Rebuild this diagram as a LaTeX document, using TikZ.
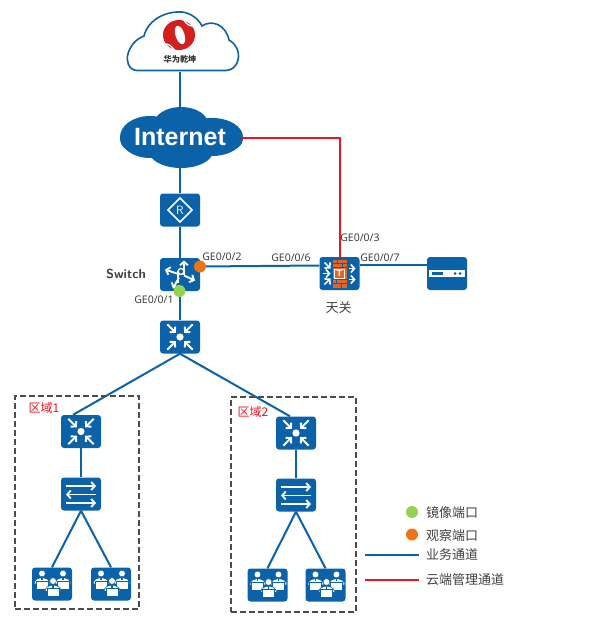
\documentclass[tikz,border=0pt]{standalone}
\usepackage{fontspec}
\setmainfont{Noto Sans}
\newfontfamily\cjk{Noto Sans CJK SC}
\newfontfamily\arialbold{Liberation Sans}[Scale=1.0]
\usetikzlibrary{arrows.meta,positioning,calc}
\definecolor{hwblue}{HTML}{0B62A9}
\definecolor{linered}{RGB}{240,20,30}
\definecolor{hworange}{HTML}{EE7311}
\definecolor{hwgreen}{HTML}{93D34F}
\definecolor{hwbrick}{HTML}{E0662A}
\definecolor{hwtext}{HTML}{404040}
\definecolor{logored}{HTML}{D2201F}

\begin{document}
\begin{tikzpicture}[
  x=1pt,y=-1pt,
  device/.style={fill=hwblue, rounded corners=3pt, minimum width=40pt, minimum height=33pt, inner sep=0pt, font=\sffamily},
  link/.style={draw=hwblue, line width=2pt},
  mgmtlink/.style={color=linered, line width=2pt},
  zone/.style={draw=black!70, dash pattern=on 6pt off 3pt, line width=1.1pt},
  port/.style={circle, inner sep=0pt, minimum size=12pt},
  portlabel/.style={font=\fontsize{10.5}{12}\selectfont, text=hwtext, inner sep=0pt},
  cjklabel/.style={font=\cjk\fontsize{13}{15}\selectfont, text=hwtext, inner sep=0pt},
  zonelabel/.style={font=\cjk\fontsize{12}{14}\selectfont, text=linered, inner sep=0pt},
  tip/.style={-{Straight Barb[length=3.5pt,width=8pt]}, draw=white, line width=1.9pt},
  person/.pic={
    \fill[white, draw=hwblue, line width=0.4pt] (0,-4.5) circle (3.3);
    \fill[white, draw=hwblue, line width=0.6pt] (-8,6) .. controls (-8,-2.5) and (8,-2.5) .. (8,6) -- cycle;
    \fill[hwblue] (-0.8,-1) rectangle (0.8,2);
    \fill[white, draw=hwblue, line width=0.6pt] (-6,3) rectangle (6,11);
  },
  core icon/.pic={
    \fill[white] (0,0) circle (3.6);
    \foreach \a in {45,135,225,315}{
      \draw[tip, rotate=\a] (18,0) -- (6,0);
    }
  },
  l2 icon/.pic={
    \draw[tip] (-15,-8) -- (15,-8);
    \draw[tip] (15,0.5) -- (-15,0.5);
    \draw[tip] (-15,9) -- (15,9);
  },
  router icon/.pic={
    \draw[draw=white, line width=1.6pt] (0,-12) -- (12,0) -- (0,12) -- (-12,0) -- cycle;
    \node[text=white, font=\sffamily\fontsize{12}{13}\selectfont, inner sep=0pt] at (0,0) {R};
  },
  switch icon/.pic={
    \draw[tip] (4,0) -- (4,-14);
    \draw[tip] (4,1) -- (15,6);
    \draw[tip] (-3,-1) -- (-15,-5);
    \draw[tip] (-1,3) -- (-7,14);
    \draw[draw=white, line width=1.4pt] (1,-3) circle (3);
    \draw[draw=white, line width=1.4pt] (-2,-4) -- (-2,8);
  },
  gateway icon/.pic={
    \fill[hwbrick] (-7,-14) rectangle (7,14);
    \foreach \y in {-10,-6,6,10}{\draw[hwblue, line width=0.8pt] (-7,\y) -- (7,\y);}
    \draw[hwblue, line width=0.8pt] (-2,-14) -- (-2,-10) (3,-10) -- (3,-6) (-3,6) -- (-3,10) (2,10) -- (2,14);
    \fill[hwbrick] (-6,-5) rectangle (6,5);
    \draw[white, line width=0.5pt] (-5,-4.5) rectangle (5,4.5);
    \node[text=white, font=\sffamily\bfseries\fontsize{9}{10}\selectfont, inner sep=0pt] at (0,0) {T};
    \draw[tip, line width=1.6pt] (-15,-11) -- (-9,-5);
    \draw[tip, line width=1.6pt] (-17,0) -- (-9,0);
    \draw[tip, line width=1.6pt] (-15,11) -- (-9,5);
    \draw[tip, line width=1.6pt] (9,-5) -- (16,-5);
    \draw[tip, line width=1.6pt] (9,6) -- (16,6);
  },
  server icon/.pic={
    \fill[white] (-18,-3.5) rectangle (18,3.5);
    \fill[hwblue] (-15,-1.5) rectangle (-4,1.5);
    \fill[hwblue] (8,0) circle (1.5);
    \fill[hwblue] (13,0) circle (1.5);
  },
  users icon/.pic={
    \pic at (-10,-6) {person};
    \pic at (11,-6) {person};
    \pic at (1,1.5) {person};
  }
]
\useasboundingbox (0,0) rectangle (599,624);

% clouds
\draw[hwblue, fill=white, line width=1.6pt] (137,70.5)
  .. controls (128,70) and (126,60) .. (128,54)
  .. controls (130,46) and (136,39) .. (144,36)
  .. controls (148,20) and (165,11) .. (182,12)
  .. controls (190,13) and (198,18) .. (202,26)
  .. controls (212,19) and (226,25) .. (229,40)
  .. controls (236,44) and (240,52) .. (238,60)
  .. controls (236,67) and (232,70) .. (226,70.5) -- cycle;
\foreach \cx/\cy/\rx/\ry in {150/137/30/21,212/137/31/19,181/124/27/17,181/151/32/17,226/139/17/12,136/139/16/13}{
  \fill[hwblue] (\cx,\cy) ellipse (\rx pt and \ry pt);
}

% logo
\fill[logored] (179,35) ellipse (16pt and 15pt);
\fill[white, rotate around={18:(180,35)}] (180,35) ellipse (4.5pt and 9.5pt);
\draw[white, line width=1.4pt] (196,26) .. controls (190,27) and (186,24) .. (184,20);
\draw[white, line width=1.4pt] (162,44) .. controls (168,43) and (172,46) .. (174,50);

\node[minimum width=112pt, minimum height=59pt, inner sep=0pt] (cloud) at (183,42) {};
\node[font=\cjk\bfseries\fontsize{8.2}{9}\selectfont, text=black!80, inner sep=0pt] (qiankun) at (180,59.5) {华为乾坤};
\node[minimum width=124pt, minimum height=61pt, inner sep=0pt, text=white, font=\arialbold\bfseries\fontsize{25}{28}\selectfont] (inet) at (180,137.5) {Internet};

% devices
\node[device] (router) at (180,210) {};
\node[device] (switch) at (180,274.5) {};
\node[device] (core) at (180,337) {};
\node[device] (gateway) at (339.5,273.5) {};
\node[device] (server) at (447,273.5) {};
\node[device] (coreA) at (81,431.5) {};
\node[device] (accA) at (81,494) {};
\node[device] (userAa) at (52,584) {};
\node[device] (userAb) at (111,584) {};
\node[device] (coreB) at (296,433) {};
\node[device] (accB) at (296,495) {};
\node[device] (userBa) at (267.5,585) {};
\node[device] (userBb) at (325.5,585) {};

% links
\draw[link] (cloud.south -| inet) -- (inet.north);
\draw[link] (inet.south) -- (router.north);
\draw[link] (router) -- (switch);
\draw[link] (switch) -- (core);
\draw[link] ([yshift=8pt]switch.east) -- ([yshift=8pt]gateway.west);
\draw[link] ([yshift=9pt]gateway.east) -- ([yshift=9pt]server.west);
\draw[link] (core.south) -- ([xshift=-8pt]coreA.north);
\draw[link] (core.south) -- ([xshift=-6pt]coreB.north);
\foreach \a/\b in {coreA/accA,coreB/accB}{\draw[link] (\a) -- (\b);}
\foreach \a/\b in {accA/userAa,accA/userAb,accB/userBa,accB/userBb}{\draw[link] (\a.south) -- (\b.north);}
\draw[mgmtlink] (inet.east) -| (gateway.north);

% icons
\pic at (router) {router icon};
\pic at (switch) {switch icon};
\foreach \n in {core,coreA,coreB}{\pic at (\n) {core icon};}
\foreach \n in {accA,accB}{\pic at (\n) {l2 icon};}
\pic at (gateway) {gateway icon};
\pic at (server) {server icon};
\foreach \n in {userAa,userAb,userBa,userBb}{\pic at (\n) {users icon};}

% zones
\node[zone, minimum width=124pt, minimum height=213pt, inner sep=0pt] (zoneA) at (77,502.5) {};
\node[zone, minimum width=125pt, minimum height=215pt, inner sep=0pt] (zoneB) at (293.5,504.5) {};
\node[zonelabel] (zoneAlabel) at (44,408) {区域1};
\node[zonelabel] (zoneBlabel) at (253,412) {区域2};

% ports
\node[port, fill=hwgreen] (portA) at (179.5,291) {};
\node[port, fill=hworange] (portB) at (200,266.5) {};
\node[portlabel] (geA) at (154,300) {GE0/0/1};
\node[portlabel] (geB) at (222,257) {GE0/0/2};
\node[portlabel] (geC) at (291,258) {GE0/0/6};
\node[portlabel] (geD) at (360,238) {GE0/0/3};
\node[portlabel] (geE) at (380,257.5) {GE0/0/7};
\node[font=\sffamily\bfseries\fontsize{13}{15}\selectfont, text=hwtext, inner sep=0pt] (swname) at (126,274) {Switch};
\node[cjklabel] (gwname) at (338.5,308) {天关};

% legend
\node[port, fill=hwgreen] (legA) at (412,512) {};
\node[port, fill=hworange] (legB) at (412,534.5) {};
\coordinate (legCa) at (365,554.5);
\coordinate (legCb) at (419,554.5);
\coordinate (legDa) at (365,579.5);
\coordinate (legDb) at (419,579.5);
\draw[link] (legCa) -- (legCb);
\draw[mgmtlink] (legDa) -- (legDb);
\node[cjklabel, anchor=west] (txtA) at (426,513) {镜像端口};
\node[cjklabel, anchor=west] (txtB) at (426,536) {观察端口};
\node[cjklabel, anchor=west] (txtC) at (426,555) {业务通道};
\node[cjklabel, anchor=west] (txtD) at (426,579.5) {云端管理通道};
\end{tikzpicture}
\end{document}
